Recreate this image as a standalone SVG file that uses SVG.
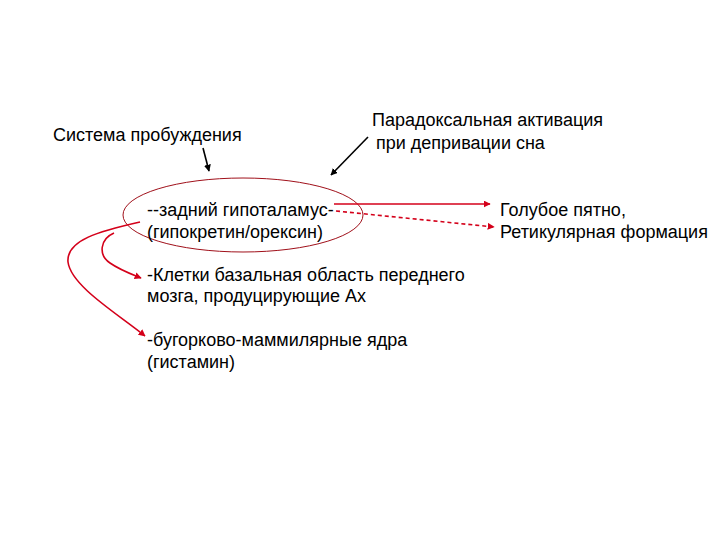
<svg xmlns="http://www.w3.org/2000/svg" width="720" height="540" viewBox="0 0 720 540">
<defs>
<style>
text{font-family:"Liberation Sans",Arial,sans-serif;font-size:18px;fill:#000}
.red{stroke:#d4001a;stroke-width:1.6;fill:none}
.blk{stroke:#000;stroke-width:1.6;fill:none}
</style>
<marker id="ar" viewBox="0 0 10 10" refX="9" refY="5" markerWidth="7" markerHeight="7" markerUnits="userSpaceOnUse" orient="auto"><path d="M0,0L10,5L0,10z" fill="#d4001a"/></marker>
<marker id="ab" viewBox="0 0 10 10" refX="9" refY="5" markerWidth="7" markerHeight="7" markerUnits="userSpaceOnUse" orient="auto"><path d="M0,0L10,5L0,10z" fill="#000"/></marker>
</defs>
<rect width="720" height="540" fill="#fff"/>
<g id="n-system"><text x="53" y="141">Система пробуждения</text></g>
<g id="n-paradox"><text x="372" y="126">Парадоксальная активация</text><text x="376" y="149">при депривации сна</text></g>
<g id="n-hypothalamus"><ellipse cx="243" cy="215" rx="120" ry="37" fill="none" stroke="#a0101a" stroke-width="1"/><text x="147" y="216">--задний гипоталамус-</text><text x="147" y="238">(гипокретин/орексин)</text></g>
<g id="n-locus"><text x="500" y="216">Голубое пятно,</text><text x="500" y="238">Ретикулярная формация</text></g>
<g id="n-basal"><text x="147" y="281">-Клетки базальная область переднего</text><text x="147" y="302">мозга, продуцирующие Ах</text></g>
<g id="n-tubero"><text x="147" y="346">-бугорково-маммилярные ядра</text><text x="147" y="368">(гистамин)</text></g>
<g id="connectors">
<path class="blk" d="M203,148L209,171" marker-end="url(#ab)"/>
<path class="blk" d="M368,137L331,175" marker-end="url(#ab)"/>
<path class="red" d="M334,204L490,204" marker-end="url(#ar)"/>
<path class="red" d="M336,211L494,227" stroke-dasharray="4,3" marker-end="url(#ar)"/>
<path class="red" d="M140,222C100,231 66,240 68,262C71,286 118,314 145,336" marker-end="url(#ar)"/>
<path class="red" d="M114,233C100,239 98,255 110,263C120,270 131,274 141,278" marker-end="url(#ar)"/>
</g>
</svg>
